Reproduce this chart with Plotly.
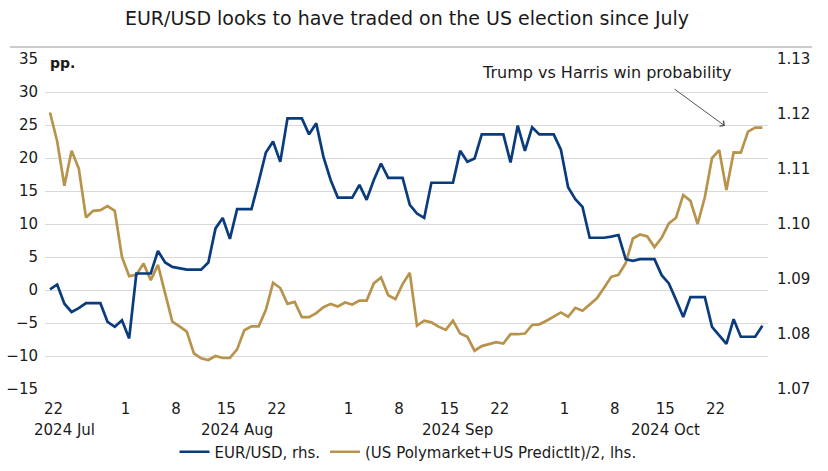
import pandas as pd
import plotly.graph_objects as go

# ---------------- data ----------------
start_date = "2024-07-22"
n_days = 100

eurusd = [
    1.0881, 1.0890, 1.0855, 1.0840, 1.0847, 1.0856, 1.0856, 1.0856, 1.0822, 1.0813,
    1.0825, 1.0792, 1.0910, 1.0910, 1.0910, 1.0951, 1.0930, 1.0922, 1.0919, 1.0917,
    1.0917, 1.0917, 1.0930, 1.0992, 1.1011, 1.0973, 1.1027, 1.1027, 1.1027, 1.1077,
    1.1130, 1.1150, 1.1113, 1.1192, 1.1192, 1.1192, 1.1163, 1.1183, 1.1122, 1.1080,
    1.1048, 1.1048, 1.1048, 1.1071, 1.1044, 1.1080, 1.1110, 1.1084, 1.1084, 1.1084,
    1.1035, 1.1019, 1.1011, 1.1075, 1.1075, 1.1075, 1.1075, 1.1133, 1.1113, 1.1119,
    1.1163, 1.1163, 1.1163, 1.1163, 1.1112, 1.1179, 1.1133, 1.1176, 1.1163, 1.1163,
    1.1163, 1.1135, 1.1067, 1.1045, 1.1031, 1.0975, 1.0975, 1.0975, 1.0977, 1.0980,
    1.0936, 1.0933, 1.0936, 1.0936, 1.0936, 1.0907, 1.0892, 1.0862, 1.0831, 1.0867,
    1.0867, 1.0867, 1.0813, 1.0798, 1.0782, 1.0827, 1.0795, 1.0795, 1.0795, 1.0815,
]

win_prob_gap = [
    26.9, 22.5, 15.8, 21.1, 18.4, 11.0, 12.0, 12.1, 12.7, 12.0,
    5.0, 2.1, 2.3, 4.0, 1.5, 3.8, -0.5, -4.8, -5.5, -6.3,
    -9.6, -10.35, -10.6, -10.0, -10.3, -10.3, -9.0, -6.1, -5.5, -5.5,
    -3.0, 1.1, 0.3, -2.1, -1.8, -4.1, -4.1, -3.5, -2.6, -2.1,
    -2.5, -1.9, -2.2, -1.6, -1.6, 1.0, 1.9, -0.8, -1.4, 0.9,
    2.6, -5.4, -4.65, -4.9, -5.55, -6.05, -4.65, -6.6, -7.1, -9.2,
    -8.5, -8.2, -7.9, -8.1, -6.7, -6.7, -6.6, -5.3, -5.2, -4.65,
    -4.05, -3.4, -4.05, -2.7, -3.15, -2.25, -1.25, 0.35, 2.0, 2.3,
    4.05, 7.8, 8.4, 8.1, 6.5, 7.9, 10.1, 10.95, 14.4, 13.5,
    10.0, 14.05, 20.0, 21.2, 15.15, 20.85, 20.8, 24.0, 24.6, 24.6,
]

series_names = ["EUR/USD, rhs.", "(US Polymarket+US PredictIt)/2, lhs."]

day_tick_dates = ["2024-07-22", "2024-08-01", "2024-08-08", "2024-08-15", "2024-08-22",
                  "2024-09-01", "2024-09-08", "2024-09-15", "2024-09-22",
                  "2024-10-01", "2024-10-08", "2024-10-15", "2024-10-22"]
day_tick_labels = ["22", "1", "8", "15", "22", "1", "8", "15", "22", "1", "8", "15", "22"]

month_labels = ["2024 Jul", "2024 Aug", "2024 Sep", "2024 Oct"]
month_label_dates = ["2024-07-24", "2024-08-17", "2024-09-16T14:00", "2024-10-15T14:00"]

title_text = "EUR/USD looks to have traded on the US election since July"
note_text = "Trump vs Harris win probability"

# ---------------- style ----------------
BLUE = "#0A3C7D"
GOLD = "#B8934B"
GRID = "#D9D9D9"
TXT = "#1A1A1A"
FONT = "DejaVu Sans"

dates = pd.date_range(start_date, periods=n_days, freq="D")
half_day = pd.Timedelta(hours=12)
tickvals = [pd.Timestamp(d) + half_day for d in day_tick_dates]

fig = go.Figure()
fig.add_trace(go.Scatter(x=dates, y=eurusd, name=series_names[0], yaxis="y2",
                         mode="lines", line=dict(color=BLUE, width=2.7)))
fig.add_trace(go.Scatter(x=dates, y=win_prob_gap, name=series_names[1], yaxis="y",
                         mode="lines", line=dict(color=GOLD, width=2.7)))

x_range = [pd.Timestamp(start_date) - pd.Timedelta(hours=16.7),
           pd.Timestamp(start_date) + pd.Timedelta(days=99, hours=18.7)]

fig.update_layout(
    width=828, height=471,
    margin=dict(l=45, r=60, t=59, b=82, autoexpand=False),
    paper_bgcolor="white", plot_bgcolor="white",
    font=dict(family=FONT, size=15, color=TXT),
    title=dict(text=title_text, x=407 / 828, xanchor="center", xref="container",
               y=1 - 18 / 471, yanchor="middle", yref="container",
               font=dict(family=FONT, size=19, color=TXT)),
    showlegend=True,
    legend=dict(orientation="h", x=(408 - 45) / 723, xanchor="center", y=(471 - 452) / 471,
                yanchor="middle", yref="container",
                font=dict(size=15, color=TXT), itemwidth=30, bgcolor="rgba(0,0,0,0)"),
    xaxis=dict(type="date", range=x_range, tickmode="array", tickvals=tickvals,
               ticktext=day_tick_labels, showgrid=False, zeroline=False, showline=False,
               ticks="", tickfont=dict(size=15, color=TXT), ticklabelstandoff=9),
    yaxis=dict(range=[-15, 35], dtick=5, tick0=0, showgrid=True, gridcolor=GRID,
               gridwidth=1, zeroline=False, showline=False, ticks="",
               tickfont=dict(size=15, color=TXT), ticklabelstandoff=6),
    yaxis2=dict(range=[1.07, 1.13], dtick=0.01, tick0=1.07, overlaying="y", side="right",
                showgrid=False, zeroline=False, showline=False, ticks="", tickformat=".2f",
                tickfont=dict(size=15, color=TXT), ticklabelstandoff=8),
)

# separator line under the title
fig.add_shape(type="line", xref="paper", yref="paper",
              x0=-35 / 723, x1=767 / 723, y0=(389 - 47) / 330, y1=(389 - 47) / 330,
              line=dict(color="#9A9A9A", width=1))

# month labels (second tick row)
for lbl, d in zip(month_labels, month_label_dates):
    fig.add_annotation(x=d, xref="x", y=-(430 - 389) / 330, yref="paper", text=lbl,
                       showarrow=False, xanchor="center", yanchor="middle",
                       font=dict(size=15, color=TXT))

# unit label
fig.add_annotation(x=3 / 723, xref="paper", y=(389 - 63) / 330, yref="paper", text="<b>pp.</b>",
                   showarrow=False, xanchor="left", yanchor="middle", font=dict(size=14, color=TXT))

# note text + arrow
fig.add_annotation(x=(607 - 45) / 723, xref="paper", y=(389 - 72) / 330, yref="paper",
                   text=note_text, showarrow=False, xanchor="center", yanchor="middle",
                   font=dict(size=16, color=TXT))
fig.add_annotation(x=pd.Timestamp(start_date) + pd.Timedelta(days=93.8), xref="x",
                   y=24.85, yref="y", text="", showarrow=True, ax=-52, ay=-38,
                   arrowhead=4, arrowsize=1.3, arrowwidth=1, arrowcolor="#555555")

fig.write_html("out.html")
